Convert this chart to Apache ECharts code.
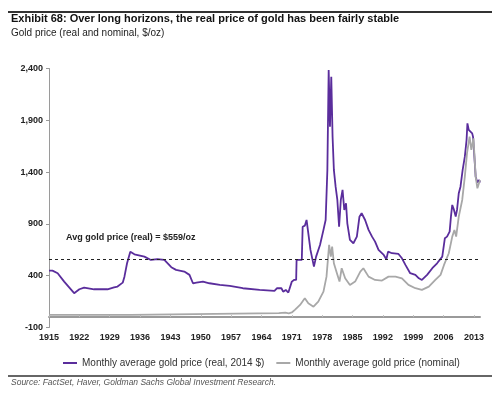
<!DOCTYPE html>
<html>
<head>
<meta charset="utf-8">
<script src="https://cdn.jsdelivr.net/npm/echarts@6/dist/echarts.min.js"></script>
<style>html,body{margin:0;padding:0;background:#fff}#c{width:500px;height:393px}</style>
</head>
<body>
<div id="c"></div>
<script>
// ---- data ----
var titleText = 'Exhibit 68: Over long horizons, the real price of gold has been fairly stable';
var subtitleText = 'Gold price (real and nominal, $/oz)';
var sourceText = 'Source: FactSet, Haver, Goldman Sachs Global Investment Research.';
var seriesNames = ['Monthly average gold price (real, 2014 $)', 'Monthly average gold price (nominal)'];
var avgReal = 559;
var avgLabel = 'Avg gold price (real) = $559/oz';
var yTicks = [-100, 400, 900, 1400, 1900, 2400];
var xTickStart = 1915, xTickStep = 7, xEnd = 2014.4;

var realYears = [1915.0,1915.8,1917.0,1918.5,1920.8,1922.0,1923.1,1925.4,1928.5,1930.0,1930.8,1931.2,1932.0,1932.4,1933.0,1933.75,1934.7,1937.0,1938.5,1940.0,1941.6,1943.2,1944.3,1946.2,1947.4,1948.2,1949.0,1950.5,1952.0,1954.4,1956.7,1959.7,1963.6,1967.0,1967.6,1968.6,1969.0,1969.6,1970.2,1970.6,1971.0,1971.5,1972.0,1972.1,1973.3,1973.5,1974.0,1974.4,1974.8,1975.3,1976.1,1976.6,1977.5,1978.3,1978.8,1979.2,1979.5,1979.8,1980.1,1980.4,1980.7,1981.1,1981.5,1981.9,1982.3,1982.7,1983.1,1983.5,1983.8,1984.4,1985.2,1986.0,1986.6,1987.1,1987.5,1987.9,1988.7,1989.5,1990.2,1991.0,1992.2,1992.8,1993.2,1994.1,1995.6,1996.4,1997.2,1998.3,1999.5,2000.3,2001.0,2002.2,2003.4,2004.5,2005.7,2006.3,2006.8,2007.4,2007.7,2008.0,2008.4,2008.8,2009.1,2009.5,2009.9,2010.4,2010.9,2011.3,2011.5,2011.8,2012.2,2012.6,2012.8,2013.0,2013.4,2013.8,2014.2,2014.4];
var realValues = [449,449,424,343,231,269,285,269,269,288,295,279,333,391,520,632,607,584,552,559,552,482,456,440,408,327,333,343,327,311,301,279,263,253,279,279,246,263,237,240,343,359,359,552,552,873,883,938,810,649,488,584,697,842,938,1421,2386,1838,2321,1742,1421,1259,1131,873,1131,1228,1035,1099,906,745,713,777,970,1003,1018,938,842,777,729,649,600,559,632,617,610,568,504,424,408,375,359,408,472,520,584,762,777,826,970,1083,1035,970,1035,1196,1259,1421,1549,1710,1871,1807,1823,1774,1740,1614,1356,1300,1324,1300];

var nominalYears = [1915.0,1933.9,1934.1,1968.0,1969.5,1970.3,1971.0,1971.7,1972.9,1974.0,1974.8,1976.0,1977.1,1978.3,1979.0,1979.6,1980.0,1980.3,1980.7,1981.4,1982.0,1982.5,1983.3,1984.4,1985.6,1986.8,1987.5,1988.7,1990.2,1991.8,1993.3,1994.9,1996.4,1997.9,1999.5,2001.0,2002.6,2004.1,2005.3,2006.1,2007.2,2008.0,2008.5,2008.9,2009.5,2010.3,2010.9,2011.4,2012.0,2012.4,2012.9,2013.4,2013.8,2014.4];
var nominalValues = [21,21,35,38,43,37,45,70,118,182,134,101,150,246,391,697,584,680,520,424,343,472,375,311,343,440,472,391,359,353,391,391,375,311,279,263,295,359,408,504,617,777,842,777,970,1131,1356,1581,1742,1614,1726,1356,1244,1324];

function pairs(xs, ys){ var out=[]; for(var i=0;i<xs.length;i++) out.push([xs[i], ys[i]]); return out; }

var FONT = 'Liberation Sans, Arial, sans-serif';
var chart = echarts.init(document.getElementById('c'), null, {renderer:'canvas'});
chart.setOption({
  animation:false,
  backgroundColor:'#fff',
  title:{
    text:titleText, subtext:subtitleText, left:11, top:13, padding:0, itemGap:4,
    textStyle:{fontFamily:FONT, fontSize:11, fontWeight:'bold', color:'#111'},
    subtextStyle:{fontFamily:FONT, fontSize:10, color:'#222'}
  },
  grid:{left:49, right:20, top:68.5, bottom:65.5},
  legend:{
    data:seriesNames, left:58, top:353, itemWidth:14, itemHeight:2, itemGap:12,
    icon:'rect',
    textStyle:{fontFamily:FONT, fontSize:10, color:'#333'}
  },
  xAxis:{
    type:'value', min:xTickStart, max:xEnd, interval:xTickStep,
    splitLine:{show:false},
    axisLine:{lineStyle:{color:'#9a9a9a', width:2}},
    axisTick:{show:true, inside:true, length:2, lineStyle:{color:'#bbb'}},
    axisLabel:{fontFamily:FONT, fontSize:9, fontWeight:'bold', color:'#222', margin:6,
      formatter:function(v){ return ((v - xTickStart) % xTickStep === 0) ? String(v) : ''; },
      showMaxLabel:false}
  },
  yAxis:{
    type:'value', min:yTicks[0], max:yTicks[yTicks.length-1], interval:yTicks[1]-yTicks[0],
    splitLine:{show:false},
    axisLine:{show:true, lineStyle:{color:'#9a9a9a', width:1}},
    axisTick:{show:true, length:3, lineStyle:{color:'#9a9a9a'}},
    axisLabel:{fontFamily:FONT, fontSize:9, fontWeight:'bold', color:'#222', margin:6,
      formatter:function(v){ return v.toLocaleString('en-US'); }}
  },
  graphic:[
    {type:'line', shape:{x1:8, y1:12, x2:492, y2:12}, style:{stroke:'#333', lineWidth:2}},
    {type:'line', shape:{x1:8, y1:376, x2:492, y2:376}, style:{stroke:'#333', lineWidth:1.5}},
    {type:'text', left:11, top:378, style:{text:sourceText, font:'italic 8.5px '+FONT, fill:'#555'}},
    {type:'text', left:66, top:233, style:{text:avgLabel, font:'bold 9px '+FONT, fill:'#222'}}
  ],
  series:[
    {name:seriesNames[0], type:'line', data:pairs(realYears, realValues), showSymbol:false,
     lineStyle:{color:'#5a2d9c', width:1.8}, itemStyle:{color:'#5a2d9c'},
     markLine:{silent:true, symbol:'none', label:{show:false},
       lineStyle:{color:'#222', type:[3,3], width:1},
       data:[{yAxis:avgReal}]}},
    {name:seriesNames[1], type:'line', data:pairs(nominalYears, nominalValues), showSymbol:false,
     lineStyle:{color:'#a8a8a8', width:1.8}, itemStyle:{color:'#a8a8a8'}}
  ]
});
</script>
</body>
</html>
